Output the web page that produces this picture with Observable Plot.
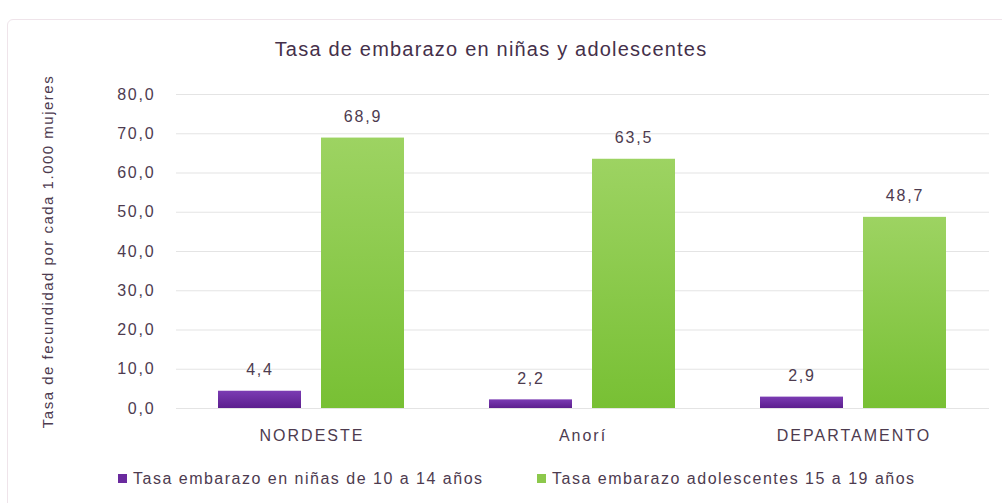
<!DOCTYPE html>
<html>
<head>
<meta charset="utf-8">
<script src="https://cdn.jsdelivr.net/npm/d3@7"></script>
<script src="https://cdn.jsdelivr.net/npm/@observablehq/plot@0.6"></script>
<style>
  html, body { margin: 0; padding: 0; background: #fff; }
  body { width: 1002px; height: 503px; position: relative; overflow: hidden; font-family: "Liberation Sans", Arial, sans-serif; color: #4d3b4f; }
  #frame { position: absolute; left: 7px; top: 19px; width: 1010px; height: 500px; border: 1.5px solid #efe4ea; border-radius: 6px; box-sizing: border-box; }
  #title { position: absolute; top: 38px; left: 0; width: 982px; text-align: center; font-size: 20px; letter-spacing: 1.2px; color: #45304a; }
  #chart { position: absolute; left: 0; top: 70px; }
  #legend { position: absolute; top: 470px; left: 0; width: 1002px; font-size: 16px; letter-spacing: 1.5px; }
  .item { position: absolute; top: 0; white-space: nowrap; }
  .sw { display: inline-block; width: 9px; height: 9px; margin-right: 6px; vertical-align: 1px; }
  #chart g[aria-label="y-axis tick label"] text { letter-spacing: 1.8px; }
  #chart g[aria-label="fx-axis tick label"] text { letter-spacing: 2px; }
  #chart g[aria-label="text"] text { letter-spacing: 1.8px; }
  #chart g[aria-label="y-axis label"] text { letter-spacing: 1.5px; font-size: 15px; }
</style>
</head>
<body>
<div id="frame"></div>
<div id="title">Tasa de embarazo en niñas y adolescentes</div>
<div id="chart"></div>
<div id="legend"></div>
<script>
const categories = ["NORDESTE", "Anorí", "DEPARTAMENTO"];
const series = ["Tasa embarazo en niñas de 10 a 14 años", "Tasa embarazo adolescentes 15 a 19 años"];
const ninas = [4.4, 2.2, 2.9];
const adolescentes = [68.9, 63.5, 48.7];
const yTicks = [0, 10, 20, 30, 40, 50, 60, 70, 80];
const seriesColors = ["#6a2a9e", "#8cc84b"];

const data = [];
categories.forEach((c, i) => {
  data.push({cat: c, series: series[0], value: ninas[i]});
  data.push({cat: c, series: series[1], value: adolescentes[i]});
});

const fmt = d => d.toFixed(1).replace(".", ",");

const plot = Plot.plot({
  width: 1002,
  height: 378,
  marginLeft: 175,
  marginRight: 12,
  marginTop: 24,
  marginBottom: 40,
  style: {fontFamily: "Liberation Sans, Arial, sans-serif", color: "#4d3b4f", background: "transparent"},
  fx: {domain: categories, padding: 0, label: null},
  x: {domain: series, axis: null, paddingInner: 0.19, paddingOuter: 0.4},
  y: {domain: [0, 80], label: null},
  color: {domain: series, range: ["url(#gradP)", "url(#gradG)"]},
  marks: [
    Plot.gridY(yTicks, {stroke: "#e4e4e4", strokeOpacity: 1, strokeWidth: 1.2}),
    Plot.axisY(yTicks, {tickSize: 0, tickPadding: 21, tickFormat: fmt, fontSize: 16, label: "Tasa de fecundidad por cada 1.000 mujeres", labelAnchor: "center", labelArrow: "none", labelOffset: 134}),
    Plot.barY(data, {fx: "cat", x: "series", y: "value", fill: "series"}),
    Plot.text(data, {fx: "cat", x: "series", y: "value", text: d => fmt(d.value), dy: -21, fontSize: 16, fill: "#4d3b4f"}),
    Plot.axisFx({anchor: "bottom", tickSize: 0, tickPadding: 21, fontSize: 16, label: null})
  ]
});

plot.insertAdjacentHTML("afterbegin", `<defs>
  <linearGradient id="gradP" x1="0" y1="0" x2="0" y2="1">
    <stop offset="0" stop-color="#7b3bb3"/><stop offset="1" stop-color="#5c1f8e"/>
  </linearGradient>
  <linearGradient id="gradG" x1="0" y1="0" x2="0" y2="1">
    <stop offset="0" stop-color="#9dd362"/><stop offset="1" stop-color="#78c034"/>
  </linearGradient>
</defs>`);
document.getElementById("chart").appendChild(plot);

const legend = document.getElementById("legend");
const lx = [118, 537];
series.forEach((s, i) => {
  const d = document.createElement("div");
  d.className = "item";
  d.style.left = lx[i] + "px";
  d.innerHTML = `<span class="sw" style="background:${seriesColors[i]}"></span>${s}`;
  legend.appendChild(d);
});
</script>
</body>
</html>
